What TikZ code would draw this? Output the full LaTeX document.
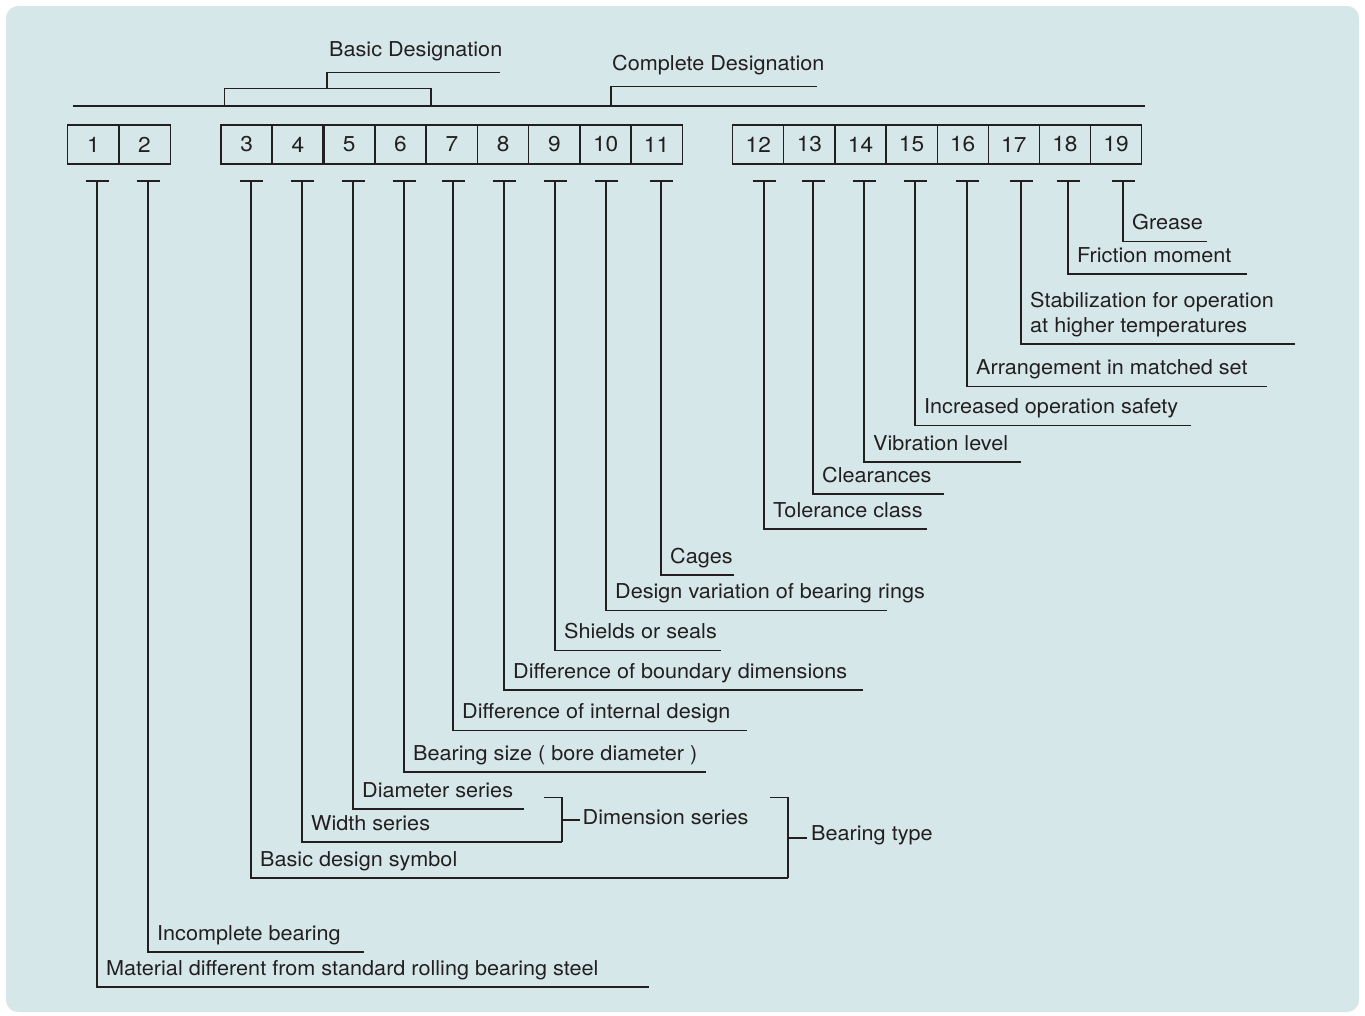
\documentclass[tikz,border=0pt]{standalone}
\usepackage{fontspec}
\setmainfont[FakeStretch=1.055]{TeX Gyre Heros}
\usetikzlibrary{positioning}
\definecolor{panel}{RGB}{213,231,233}
\definecolor{ink}{RGB}{35,31,32}

\begin{document}
\begin{tikzpicture}[x=1pt,y=-1pt,
    cell/.style={draw=ink,line width=1.1pt,minimum width=51.2pt,minimum height=39pt,
      inner sep=0pt,text=ink,font=\fontsize{21.5}{24}\selectfont},
    boldcell/.style={cell,line width=2.2pt},
    lbl/.style={inner sep=0pt,anchor=base west,text=ink,align=left,
      font=\fontsize{20.5}{25}\selectfont},
    lead/.style={draw=ink,line width=1.1pt}]
\useasboundingbox (0,0) rectangle (1365,1015);
\fill[white] (0,0) rectangle (1365,1015);
\fill[panel,rounded corners=12pt] (6,6) rectangle (1359,1012);

% designation brackets
\draw[lead] (72.5,106) -- (1145,106);
\draw[lead] (224.5,106) -- (224.5,88.7) -- (431,88.7) -- (431,106);
\draw[lead] (327,88.7) -- (327,72.7) -- (500,72.7);
\draw[lead] (611,106) -- (611,86.7) -- (817,86.7);
\node[lbl] (basic) at (329,56) {Basic Designation};
\node[lbl] (complete) at (612,70) {Complete Designation};

% digit boxes
\foreach \n/\cx in {1/93.5,2/144.5,7/451.8,8/503.1,9/554.4,10/605.7,11/656.5,
    12/758.3,13/809.4,14/860.5,15/911.6,16/962.7,17/1013.8,18/1064.9,19/1116}
  \node[cell] (b\n) at (\cx,144.5) {\n};
\foreach \n/\cx in {3/246.6,4/297.9,5/349.2,6/400.5}
  \node[boldcell] (b\n) at (\cx,144.5) {\n};

% leaders
\foreach \n/\sx/\ly/\ex/\txt in {
    1/97/987/649/{Material different from standard rolling bearing steel},
    2/148/952/364/{Incomplete bearing},
    3/251/878/788/{Basic design symbol},
    4/302/842/562/{Width series},
    5/353/809/524/{Diameter series},
    6/404/772/706/{Bearing size ( bore diameter )},
    7/453/730.5/747/{Difference of internal design},
    8/504/690/863/{Difference of boundary dimensions},
    9/555/650.5/721/{Shields or seals},
    10/606/610.5/887/{Design variation of bearing rings},
    11/661/575/734/{Cages},
    12/764/529/927/{Tolerance class},
    13/813/494/944/{Clearances},
    14/864/462/1021/{Vibration level},
    15/915/425.5/1191/{Increased operation safety},
    16/967/386.5/1267/{Arrangement in matched set},
    17/1021/344/1295/{Stabilization for operation\\at higher temperatures},
    18/1068/274/1247/{Friction moment},
    19/1123/241.5/1207/{Grease}}{
  \draw[lead] (\sx-11.5,181) -- (\sx+11.5,181);
  \draw[lead] (\sx,181) -- (\sx,\ly) -- (\ex,\ly);
  \node[lbl] (l\n) at (\sx+9,\ly-12) {\txt};
}

% series brackets
\draw[lead] (562,842) -- (562,797.5) -- (544,797.5);
\draw[lead] (562,820) -- (580,820);
\node[lbl] (dim) at (582.5,824) {Dimension series};
\draw[lead] (788,878) -- (788,797.5) -- (770,797.5);
\draw[lead] (788,838) -- (807,838);
\node[lbl] (type) at (811,840) {Bearing type};

\end{tikzpicture}
\end{document}
